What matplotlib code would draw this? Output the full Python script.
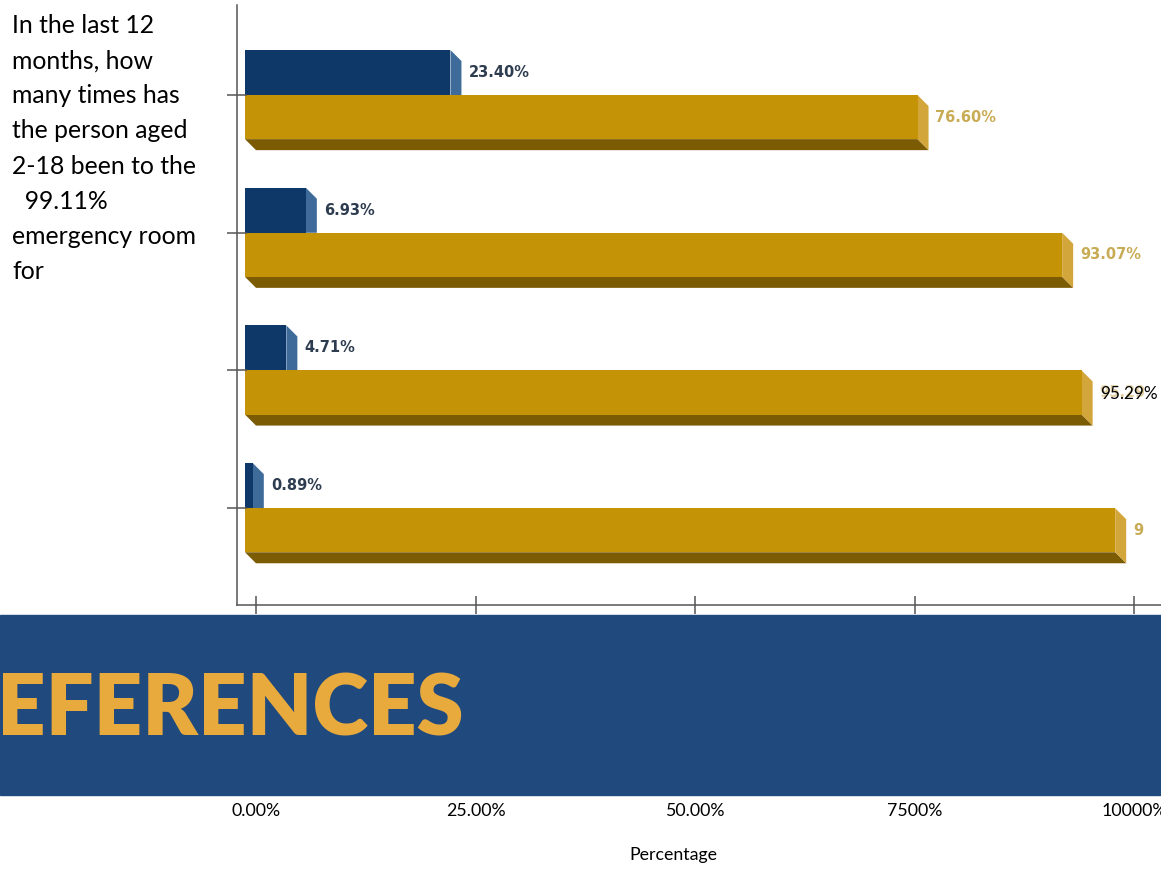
import matplotlib
matplotlib.use('Agg')
from matplotlib import pyplot as plt
from matplotlib.patches import Polygon, Rectangle
from matplotlib.transforms import Bbox, TransformedBbox

W, H = 1161, 869

blue_values = [23.40, 6.93, 4.71, 0.89]
gold_values = [76.60, 93.07, 95.29, 99.11]
x_ticks = [0, 25, 50, 75, 100]
x_tick_labels = ['0.00%', '25.00%', '50.00%', '7500%', '10000%']
question = ['In the last 12', 'months, how', 'many times has', 'the person aged',
            '2-18 been to the', '  99.11%', 'emergency room', 'for']
x_title = 'Percentage'
banner_text = 'EFERENCES'

BLUE = '#0d3867'
BLUE_SIDE = '#3f6b9a'
GOLD = '#c49306'
GOLD_SIDE = '#d3a63b'
GOLD_DARK = '#7b5b04'
BANNER = '#204a7e'
AXIS = '#555555'

plt.rcParams['font.family'] = ['Lato', 'DejaVu Sans']


def fx(px):
    return px / W


def fy(py):
    return 1 - py / H


fig = plt.figure(figsize=(W / 100, H / 100), dpi=100)

# chart area: x axis 0..100 spans 256..1134 px
ax = fig.add_axes([fx(237), fy(605), (1161 - 237) / W, (605 - 5) / H])
px_per_unit = 8.78
ax.set_xlim((237 - 256) / px_per_unit, (1161 - 256) / px_per_unit)
ax.set_ylim(3.703, -0.654)

# 3d look: front face shifted left/up by the bar depth
dx = 11 / px_per_unit
dy = 0.08
bh = 0.327
gh = 0.32

for i, (bv, gv) in enumerate(zip(blue_values, gold_values)):
    y = i
    # blue bar
    ax.add_patch(Polygon([(bv - dx, y - bh), (bv, y - bh + dy), (bv, y), (bv - dx, y)],
                         closed=True, color=BLUE_SIDE, lw=0))
    ax.barh(y - bh, bv, left=-dx, height=bh, align='edge', color=BLUE, lw=0)
    # gold bar
    ax.add_patch(Polygon([(-dx, y + gh), (gv - dx, y + gh), (gv, y + gh + dy), (0, y + gh + dy)],
                         closed=True, color=GOLD_DARK, lw=0))
    ax.add_patch(Polygon([(gv - dx, y), (gv, y + dy), (gv, y + gh + dy), (gv - dx, y + gh)],
                         closed=True, color=GOLD_SIDE, lw=0))
    ax.barh(y, gv, left=-dx, height=gh, align='edge', color=GOLD, lw=0)

    ax.annotate(f'{bv:.2f}%', (bv, y - bh / 2), xytext=(5, 0), textcoords='offset points',
                va='center', ha='left', family='DejaVu Sans', fontweight='bold',
                fontsize=10.5, color='#2e3c50')
    glabel = ax.annotate(f'{gv:.2f}%', (gv, y + gh / 2), xytext=(5, 0), textcoords='offset points',
                         va='center', ha='left', family='DejaVu Sans', fontweight='bold',
                         fontsize=10.5, color='#c8ab55', alpha=0.55 if i == 2 else 1,
                         annotation_clip=False)
    glabel.set_clip_on(True)
    glabel.set_clip_box(TransformedBbox(Bbox([[0, 0], [fx(1144), 1]]), fig.transFigure))
    if i == 2:
        ax.annotate(f'{gv:.2f}%', (gv, y + gh / 2), xytext=(5.5, -1), textcoords='offset points',
                    va='center', ha='left', fontsize=12.3, color='black')

ax.spines['top'].set_visible(False)
ax.spines['right'].set_visible(False)
for side in ['left', 'bottom']:
    ax.spines[side].set_color(AXIS)
    ax.spines[side].set_linewidth(1.1)

ax.set_xticks(x_ticks)
ax.set_xticklabels(x_tick_labels)
ax.tick_params(axis='x', direction='inout', length=13, width=1.1, color=AXIS,
               pad=136, labelsize=12.8, labelcolor='black')
ax.set_yticks(range(len(blue_values)))
ax.set_yticklabels([])
ax.tick_params(axis='y', direction='inout', length=14, width=1.1, color=AXIS)

ax.set_xlabel(x_title, fontsize=12.8)
ax.xaxis.set_label_coords((673 - 237) / (1161 - 237), (605 - 847) / 600)

# banner across the lower part
fig.patches.append(Rectangle((0, fy(795)), 1, 180 / H, transform=fig.transFigure,
                             color=BANNER, zorder=3))
fig.text(fx(-3), fy(735), banner_text, ha='left', va='baseline', fontsize=61,
         fontweight='heavy', color='#e8a93d', zorder=4)

fig.text(fx(12), fy(14), '\n'.join(question), ha='left', va='top', fontsize=17.8,
         linespacing=1.64, color='black')

fig.savefig('out.png', dpi=100)
